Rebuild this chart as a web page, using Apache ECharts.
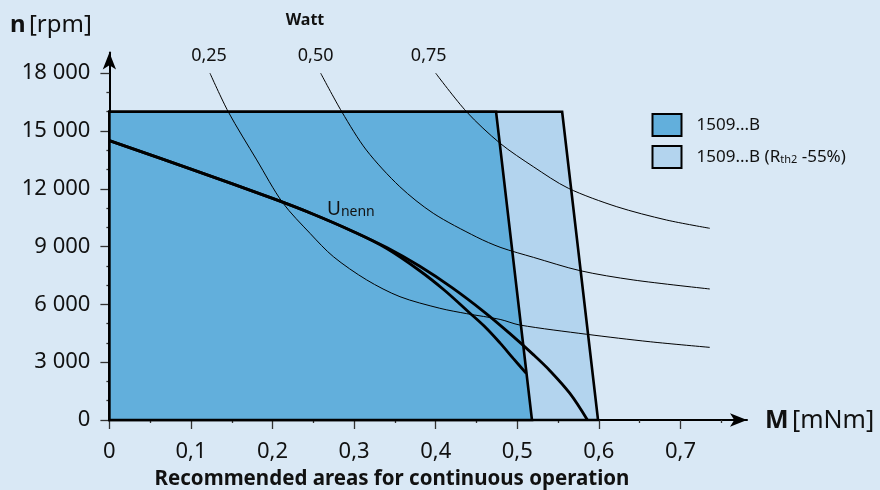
<!DOCTYPE html>
<html>
<head>
<meta charset="utf-8">
<script src="https://cdn.jsdelivr.net/npm/echarts@6/dist/echarts.min.js"></script>
<style>
html,body{margin:0;padding:0;background:#d9e8f5;}
#c{width:880px;height:490px;}
</style>
</head>
<body>
<div id="c"></div>
<script>
// ---- data ----
const xMajorTicks = [0, 0.1, 0.2, 0.3, 0.4, 0.5, 0.6, 0.7];
const xMinorTicks = [0.05, 0.15, 0.25, 0.35, 0.45, 0.55, 0.65, 0.75];
const yMajorTicks = [0, 3000, 6000, 9000, 12000, 15000, 18000];
const yMinorTicks = [1000, 2000, 4000, 5000, 7000, 8000, 10000, 11000, 13000, 14000, 16000, 17000];
const xTickLabels = ['0', '0,1', '0,2', '0,3', '0,4', '0,5', '0,6', '0,7'];
const yTickLabels = ['0', '3 000', '6 000', '9 000', '12 000', '15 000', '18 000'];

const legendNames = ['1509...B', '1509...B (Rth2 -55%)'];

// operating areas (M [mNm], n [rpm])
const areaStd = [[0, 0], [0, 16000], [0.474, 16000], [0.518, 0]];
const areaRth = [[0, 0], [0, 16000], [0.555, 16000], [0.599, 0]];

// U nenn characteristic curves
const uNennOuter = [[0, 14500], [0.1, 13020], [0.2, 11500], [0.25, 10680], [0.3, 9760], [0.34, 8950],
  [0.38, 7990], [0.42, 6870], [0.46, 5590], [0.49, 4520], [0.52, 3380], [0.54, 2560],
  [0.5645, 1380], [0.586, 0]];
const uNennInner = [[0, 14500], [0.1, 13020], [0.2, 11500], [0.25, 10680], [0.3, 9760], [0.34, 8900],
  [0.38, 7760], [0.41, 6760], [0.44, 5620], [0.46, 4850], [0.479, 3990], [0.495, 3200], [0.511, 2420]];

// constant power curves (Watt)
const wattLabels = ['0,25', '0,50', '0,75'];
const watt025 = [[0.1233, 18000], [0.1458, 15990], [0.1806, 13500], [0.2124, 11280], [0.2459, 9690],
  [0.2745, 8480], [0.3154, 7270], [0.3562, 6400], [0.405, 5800], [0.438, 5520], [0.479, 5220],
  [0.503, 4930], [0.585, 4450], [0.663, 4060], [0.736, 3770]];
const watt050 = [[0.259, 18000], [0.285, 15990], [0.315, 14010], [0.356, 12110], [0.397, 10730],
  [0.45, 9500], [0.48, 8950], [0.52, 8440], [0.577, 7750], [0.642, 7270], [0.736, 6800]];
const watt075 = [[0.4, 18000], [0.438, 15990], [0.479, 14360], [0.5196, 13150], [0.5625, 12030],
  [0.622, 11070], [0.683, 10380], [0.736, 9950]];

// ---- styles ----
const BG = '#d9e8f5', DARK = '#62afdc', LIGHT = '#b3d4ee', INK = '#111111';
const FONT = 'Noto Sans';

function polySeries(name, pts, color, z) {
  return {
    name: name, type: 'custom', z: z, xAxisIndex: 0, yAxisIndex: 0,
    itemStyle: { color: color, borderColor: '#000', borderWidth: 2 },
    data: [0],
    renderItem: function (params, api) {
      return {
        type: 'polygon',
        shape: { points: pts.map(p => api.coord(p)) },
        style: { fill: color, stroke: '#000', lineWidth: 2.6, lineJoin: 'miter' }
      };
    }
  };
}

function wattSeries(pts, label, offsetX) {
  return {
    type: 'line', z: 4, smooth: 0.3, silent: true,
    symbol: 'circle', symbolSize: 0.01, showSymbol: true, showAllSymbol: true,
    itemStyle: { color: '#000' },
    lineStyle: { color: '#000', width: 1 },
    label: { show: false },
    data: pts.map((p, i) => i === 0 ? {
      value: p,
      label: { show: true, position: 'top', distance: 8, offset: [offsetX, 0], formatter: label,
        fontFamily: FONT, fontSize: 18, color: INK }
    } : p)
  };
}

function uSeries(pts) {
  return {
    type: 'line', z: 5, smooth: 0.35, symbol: 'none', silent: true,
    lineStyle: { color: '#000', width: 2.8 },
    data: pts
  };
}

const chart = echarts.init(document.getElementById('c'), null, { renderer: 'canvas' });

const commonX = { type: 'value', min: 0, max: 0.7816, interval: 0.1, gridIndex: 0 };
const commonY = { type: 'value', min: 0, max: 19080, interval: 3000, gridIndex: 0 };

chart.setOption({
  backgroundColor: BG,
  animation: false,
  textStyle: { fontFamily: FONT },
  grid: { left: 109.4, right: 133, top: 52.4, bottom: 70, containLabel: false },
  xAxis: [
    Object.assign({}, commonX, {
      position: 'bottom',
      axisLine: { show: true, onZero: false, symbol: ['none', 'arrow'], symbolSize: [10, 17],
        lineStyle: { color: '#000', width: 2 } },
      axisTick: { show: true, customValues: xMajorTicks, length: 9, lineStyle: { color: '#333', width: 1.3 } },
      axisLabel: { show: true, customValues: xMajorTicks, margin: 21, fontFamily: FONT, fontSize: 22, color: INK,
        formatter: v => xTickLabels[xMajorTicks.indexOf(Math.round(v * 10) / 10)] || '' },
      splitLine: { show: false }
    }),
    Object.assign({}, commonX, {
      position: 'bottom',
      axisLine: { show: false },
      axisTick: { show: true, customValues: xMinorTicks, length: 3, lineStyle: { color: '#333', width: 1.3 } },
      axisLabel: { show: false },
      splitLine: { show: false }
    })
  ],
  yAxis: [
    Object.assign({}, commonY, {
      position: 'left',
      axisLine: { show: true, onZero: false, symbol: ['none', 'arrow'], symbolSize: [10, 17],
        lineStyle: { color: '#000', width: 2 } },
      axisTick: { show: true, customValues: yMajorTicks, length: 9, lineStyle: { color: '#333', width: 1.3 } },
      axisLabel: { show: true, customValues: yMajorTicks, margin: 19, fontFamily: FONT, fontSize: 22, color: INK,
        formatter: v => yTickLabels[yMajorTicks.indexOf(v)] || '' },
      splitLine: { show: false }
    }),
    Object.assign({}, commonY, {
      position: 'left', offset: 0,
      axisLine: { show: false },
      axisTick: { show: true, customValues: yMinorTicks, length: 3, lineStyle: { color: '#333', width: 1.3 } },
      axisLabel: { show: false },
      splitLine: { show: false }
    })
  ],
  legend: {
    orient: 'vertical', left: 646.5, top: 108, itemWidth: 29, itemHeight: 22, itemGap: 8,
    icon: 'rect', selectedMode: false,
    data: [
      { name: legendNames[0], itemStyle: { color: DARK, borderColor: '#000', borderWidth: 2 } },
      { name: legendNames[1], itemStyle: { color: LIGHT, borderColor: '#000', borderWidth: 2 } }
    ],
    formatter: function (name) {
      if (name === legendNames[0]) return '{f|1509...B}';
      return '{f|1509...B (R}{s|th2}{a| -55%)}';
    },
    textStyle: {
      fontFamily: FONT, fontSize: 17, color: INK,
      rich: {
        f: { fontFamily: FONT, fontSize: 17, color: INK, padding: [0, 0, 0, 10], verticalAlign: 'bottom' },
        a: { fontFamily: FONT, fontSize: 17, color: INK, verticalAlign: 'bottom' },
        s: { fontFamily: FONT, fontSize: 11, color: INK, verticalAlign: 'bottom' }
      }
    }
  },
  series: [
    polySeries(legendNames[1], areaRth, LIGHT, 1),
    polySeries(legendNames[0], areaStd, DARK, 2),
    wattSeries(watt025, wattLabels[0], -1),
    wattSeries(watt050, wattLabels[1], -5),
    wattSeries(watt075, wattLabels[2], -7),
    uSeries(uNennOuter),
    uSeries(uNennInner)
  ],
  graphic: [
    { type: 'text', x: 10, y: 25, silent: true,
      style: { text: '{b|n} {r|[rpm]}', verticalAlign: 'middle',
        rich: { b: { fontFamily: FONT, fontSize: 24, fontWeight: 'bold', fill: INK },
                r: { fontFamily: FONT, fontSize: 24, fill: INK } } } },
    { type: 'text', x: 305, y: 20, silent: true,
      style: { text: 'Watt', align: 'center', verticalAlign: 'middle',
        fontFamily: FONT, fontSize: 16, fontWeight: 'bold', fill: INK } },
    { type: 'text', x: 327, y: 210, silent: true, z: 10,
      style: { text: '{u|U}{n|nenn}', verticalAlign: 'middle',
        rich: { u: { fontFamily: FONT, fontSize: 19, fill: INK, verticalAlign: 'bottom' },
                n: { fontFamily: FONT, fontSize: 14, fill: INK, verticalAlign: 'bottom' } } } },
    { type: 'text', x: 765, y: 421, silent: true,
      style: { text: '{b|M} {r|[mNm]}', verticalAlign: 'middle',
        rich: { b: { fontFamily: FONT, fontSize: 25, fontWeight: 'bold', fill: INK },
                r: { fontFamily: FONT, fontSize: 25, fill: INK } } } },
    { type: 'text', x: 392, y: 479, silent: true,
      style: { text: 'Recommended areas for continuous operation', align: 'center', verticalAlign: 'middle',
        fontFamily: FONT, fontSize: 20.5, fontWeight: 'bold', fill: INK } }
  ]
});
</script>
</body>
</html>
